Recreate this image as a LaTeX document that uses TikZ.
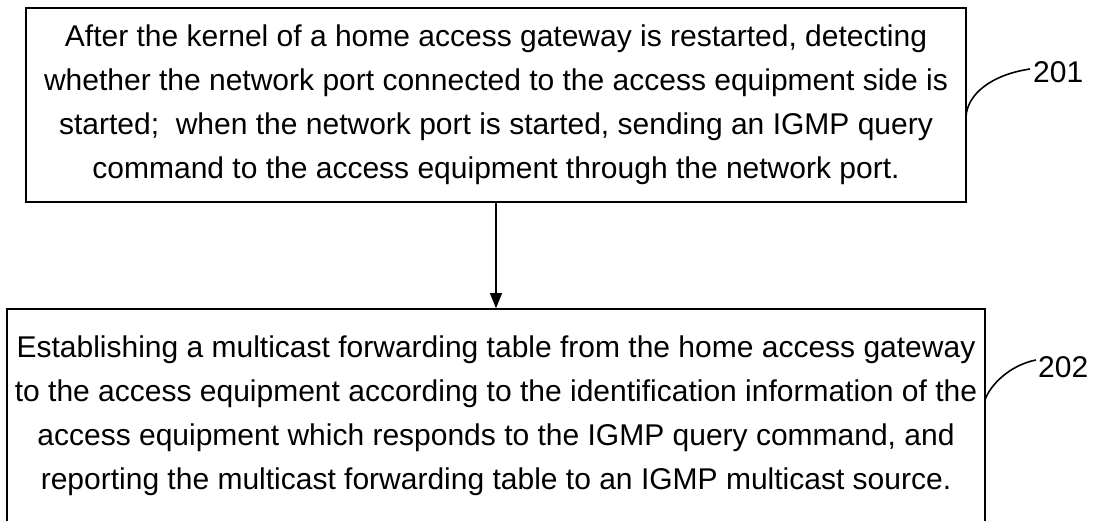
\documentclass[tikz,border=0pt]{standalone}
\usepackage{fontspec}
\setmainfont{Liberation Sans}
\usetikzlibrary{arrows.meta}
\begin{document}
\begin{tikzpicture}[x=1pt,y=-1pt,
  stepbox/.style={draw=black,line width=1.6pt,rectangle,align=center,inner sep=0pt,
    font=\fontsize{30}{44}\selectfont},
  leader/.style={draw=black,line width=1.6pt},
  flow/.style={draw=black,line width=1.1pt,-{Triangle[width=12pt,length=15pt]}},
  tag/.style={inner sep=0pt,font=\fontsize{30}{36}\selectfont}]
\useasboundingbox (0,0) rectangle (1097,521);
\node[stepbox,minimum width=940pt,minimum height=194pt] (b1) at (496,105)
 {After the kernel of a home access gateway is restarted, detecting\\
  whether the network port connected to the access equipment side is\\
  started;\ \ when the network port is started, sending an IGMP query\\
  command to the access equipment through the network port.};
\node[stepbox,minimum width=978pt,minimum height=214pt] (b2) at (496,416)
 {Establishing a multicast forwarding table from the home access gateway\\
  to the access equipment according to the identification information of the\\
  access equipment which responds to the IGMP query command, and\\
  reporting the multicast forwarding table to an IGMP multicast source.};
\draw[flow] (b1.south) -- (b2.north);
\node[tag,anchor=base west] (t1) at (1033,83) {201};
\node[tag,anchor=base west] (t2) at (1038,377) {202};
\coordinate (s1) at (966,117);
\coordinate (e1) at (1030,69);
\coordinate (s2) at (985,400);
\coordinate (e2) at (1036,360);
\draw[leader] (s1) .. controls (967,95) and (990,75) .. (e1);
\draw[leader] (s2) .. controls (990,385) and (1010,365) .. (e2);
\end{tikzpicture}
\end{document}
